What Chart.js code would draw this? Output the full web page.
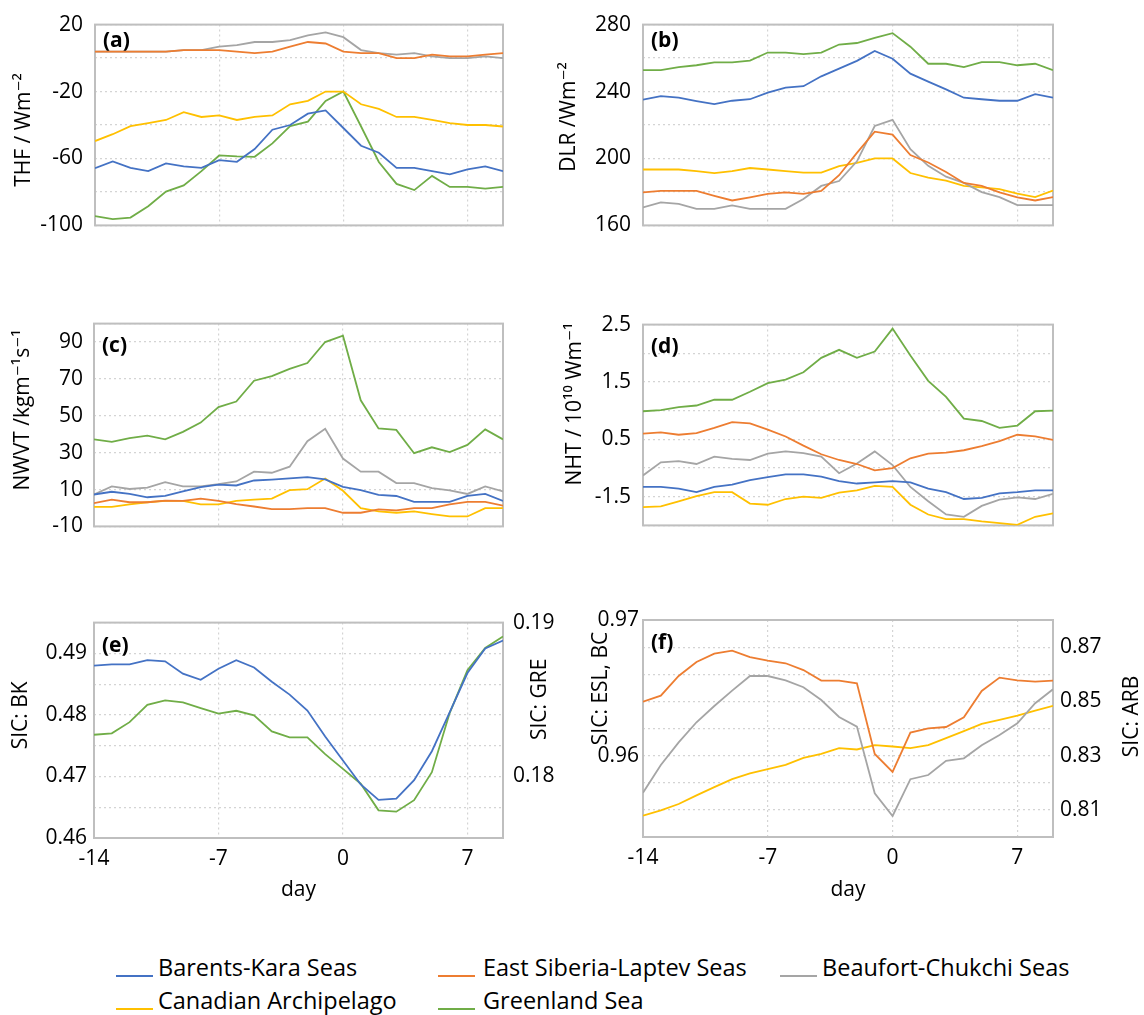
<!DOCTYPE html>
<html>
<head>
<meta charset="utf-8">
<script src="https://cdn.jsdelivr.net/npm/chart.js@4.4.0/dist/chart.umd.min.js"></script>
<style>
  body { margin: 0; background: #fff; }
  #page { position: relative; width: 1144px; height: 1015px; overflow: hidden; font-family: "Open Sans", "DejaVu Sans", sans-serif; }
  .panel { position: absolute; }
  .leg { position: absolute; font-size: 23.5px; line-height: 26px; color: #000; white-space: nowrap; }
  .swatch { position: absolute; width: 37px; height: 2px; }
</style>
</head>
<body>
<div id="page"></div>
<script>
// days relative to the event
const days = [-14, -13, -12, -11, -10, -9, -8, -7, -6, -5, -4, -3, -2, -1, 0, 1, 2, 3, 4, 5, 6, 7, 8, 9];
const dayTicks = [-14, -7, 0, 7];

const seriesNames = ["Barents-Kara Seas", "East Siberia-Laptev Seas", "Beaufort-Chukchi Seas", "Canadian Archipelago", "Greenland Sea"];
const seriesColors = ["#4472C4", "#ED7D31", "#A5A5A5", "#FFC000", "#70AD47"];

// (a) THF
const thfBK = [-65.8, -61.8, -65.6, -67.6, -62.9, -64.7, -65.6, -61, -62, -54.4, -42.8, -40, -33.2, -31.3, -41.8, -52.4, -56.6, -65.6, -65.6, -67.6, -69.5, -66.5, -64.7, -67.6];
const thfESL = [3.9, 3.9, 3.9, 3.9, 3.9, 4.8, 4.8, 4.8, 3.9, 3, 3.9, 6.8, 9.6, 8.7, 3.9, 3, 3, 0, 0, 2, 1, 1, 2, 3];
const thfBC = [3.9, 3.9, 3.9, 3.9, 3.9, 4.8, 4.8, 6.8, 7.7, 9.6, 9.6, 10.7, 13.5, 15.3, 12.5, 4.8, 3, 2, 3, 1, 0, 0, 1, 0];
const thfCA = [-49.6, -45.5, -40.7, -38.9, -37, -32.3, -35.2, -34.3, -37, -35.2, -34.3, -27.6, -25.6, -20, -20, -27.6, -30.4, -35.2, -35.2, -37, -38.9, -40, -40, -40.9];
const thfGRE = [-94.4, -96.2, -95.3, -88.5, -79.8, -76.1, -67.6, -58.2, -58.8, -59, -51, -40.7, -38, -25.6, -20, -40.9, -62.1, -75.2, -78.9, -70.4, -77, -77, -78, -77];
const thfTicks = [-100, -80, -60, -40, -20, 0, 20];
const thfLabels = ["-100", "", "-60", "", "-20", "", "20"];

// (b) DLR
const dlrBK = [235.2, 237.3, 236.3, 234.3, 232.5, 234.5, 235.4, 239.3, 242.3, 243.2, 249.1, 253.7, 258.3, 264.2, 259.6, 250.7, 245.9, 241.3, 236.3, 235.4, 234.5, 234.5, 238.4, 236.3];
const dlrESL = [179.7, 180.6, 180.6, 180.6, 177.7, 174.9, 176.8, 178.8, 179.7, 178.8, 180.6, 190, 203.3, 216, 214.2, 202, 197.6, 191.9, 185.4, 183.6, 179.7, 176.8, 174.9, 176.9];
const dlrBC = [170.8, 173.8, 172.9, 169.9, 169.9, 172, 169.9, 169.9, 169.9, 175.8, 183.6, 186.5, 198.3, 219.4, 223.1, 205.5, 195.6, 189.1, 185.4, 179.9, 176.9, 172.1, 172.1, 172.1];
const dlrCA = [193.4, 193.4, 193.4, 192.4, 191.3, 192.4, 194.3, 193.4, 192.4, 191.5, 191.5, 195.4, 197.4, 200, 200, 191.3, 188.6, 186.7, 183.6, 182.7, 181.7, 179, 176.9, 180.8];
const dlrGRE = [252.8, 252.8, 254.6, 255.7, 257.4, 257.4, 258.5, 263.3, 263.3, 262.4, 263.3, 268.1, 269, 272, 274.9, 266.8, 256.6, 256.6, 254.6, 257.6, 257.6, 255.7, 256.6, 252.8];
const dlrTicks = [160, 180, 200, 220, 240, 260, 280];
const dlrLabels = ["160", "", "200", "", "240", "", "280"];

// (c) NWVT
const nwvtBK = [7.3, 8.8, 7.6, 5.8, 6.5, 9, 11.3, 12.7, 12.2, 14.9, 15.4, 16, 16.7, 15.5, 11.5, 9.7, 7.1, 6.5, 3.3, 3.3, 3.3, 6.5, 7.6, 3.8];
const nwvtESL = [2.6, 4.5, 3.1, 3.1, 4, 3.8, 5.1, 3.8, 2.1, 0.8, -0.6, -0.6, -0.1, -0.1, -2.6, -2.6, -0.8, -1.3, -0.1, -0.1, 1.9, 3.3, 3.3, 1.3];
const nwvtBC = [7.3, 11.7, 10.3, 11, 14, 11.7, 11.7, 12.9, 14.4, 19.7, 19.1, 22.4, 36.2, 42.9, 26.8, 19.7, 19.7, 13.5, 13.5, 10.8, 9.5, 7.6, 11.7, 9];
const nwvtCA = [0.6, 0.6, 1.9, 3.1, 3.8, 3.8, 1.9, 1.9, 3.8, 4.5, 5.1, 9.7, 10.2, 16, 9.3, -0.1, -1.9, -2.6, -1.9, -3.3, -4.6, -4.6, -0.1, -0.1];
const nwvtGRE = [37.2, 35.9, 37.9, 39.2, 37.2, 41.3, 46.3, 54.7, 57.7, 69, 71.5, 75.4, 78.6, 90, 93.4, 58.4, 43.1, 42.3, 29.7, 32.9, 30.3, 34.2, 42.6, 37.2];
const nwvtTicks = [-10, 10, 30, 50, 70, 90, 100];
const nwvtLabels = ["-10", "10", "30", "50", "70", "90", ""];

// (d) NHT (tick labels as printed in the figure)
const nhtBK = [-0.33, -0.33, -0.36, -0.42, -0.33, -0.29, -0.21, -0.16, -0.11, -0.11, -0.15, -0.23, -0.27, -0.25, -0.23, -0.25, -0.36, -0.42, -0.54, -0.52, -0.44, -0.42, -0.39, -0.39];
const nhtESL = [0.6, 0.62, 0.58, 0.61, 0.7, 0.8, 0.78, 0.67, 0.55, 0.39, 0.24, 0.14, 0.07, -0.04, 0, 0.17, 0.25, 0.27, 0.31, 0.38, 0.47, 0.58, 0.55, 0.49];
const nhtBC = [-0.13, 0.1, 0.12, 0.07, 0.2, 0.16, 0.14, 0.25, 0.29, 0.26, 0.2, -0.09, 0.08, 0.29, 0.05, -0.33, -0.58, -0.81, -0.85, -0.66, -0.55, -0.51, -0.54, -0.45];
const nhtCA = [-0.68, -0.67, -0.58, -0.49, -0.42, -0.42, -0.62, -0.64, -0.54, -0.5, -0.52, -0.43, -0.39, -0.31, -0.33, -0.64, -0.81, -0.89, -0.89, -0.93, -0.96, -0.99, -0.85, -0.79];
const nhtGRE = [0.99, 1.01, 1.06, 1.09, 1.19, 1.19, 1.33, 1.48, 1.54, 1.67, 1.92, 2.06, 1.92, 2.03, 2.43, 1.96, 1.52, 1.24, 0.86, 0.82, 0.7, 0.74, 0.99, 1.0];
const nhtTicks = [-1, -0.5, 0, 0.5, 1, 1.5, 2, 2.5];
const nhtLabels = ["", "-1.5", "", "0.5", "", "1.5", "", "2.5"];

// (e) SIC BK (left) and GRE (right)
const sicBK = [0.488, 0.4882, 0.4882, 0.4889, 0.4887, 0.4867, 0.4857, 0.4875, 0.4889, 0.4877, 0.4854, 0.4833, 0.4807, 0.4765, 0.4726, 0.4687, 0.4662, 0.4664, 0.4694, 0.4741, 0.4804, 0.4868, 0.4908, 0.4921];
const sicGRE = [0.18271, 0.1828, 0.18353, 0.18466, 0.18494, 0.18481, 0.18444, 0.18408, 0.18427, 0.18397, 0.18293, 0.18254, 0.18254, 0.18145, 0.18049, 0.17953, 0.1778, 0.17771, 0.17846, 0.18028, 0.18412, 0.1869, 0.18835, 0.1891];
const bkTicks = [0.46, 0.465, 0.47, 0.475, 0.48, 0.485, 0.49, 0.495];
const bkLabels = ["0.46", "", "0.47", "", "0.48", "", "0.49", ""];
const greTicks = [0.176, 0.178, 0.18, 0.182, 0.184, 0.186, 0.188, 0.19];
const greLabels = ["", "", "0.18", "", "", "", "", "0.19"];

// (f) SIC ESL, BC (left) and ARB (right)
const sicESL = [0.96398, 0.96442, 0.96587, 0.9669, 0.96752, 0.96774, 0.96727, 0.967, 0.96681, 0.96631, 0.96553, 0.96553, 0.96533, 0.96012, 0.9588, 0.9617, 0.96201, 0.96211, 0.96283, 0.96477, 0.96575, 0.96555, 0.96545, 0.96553];
const sicBC = [0.95727, 0.95931, 0.96098, 0.96246, 0.96366, 0.96479, 0.96587, 0.96587, 0.96555, 0.96504, 0.9641, 0.96285, 0.96214, 0.95722, 0.95555, 0.95826, 0.95857, 0.95961, 0.9598, 0.96076, 0.96152, 0.96238, 0.96386, 0.96489];
const sicCA = [0.80785, 0.80982, 0.81215, 0.81534, 0.8184, 0.82135, 0.82344, 0.82503, 0.82663, 0.8292, 0.83067, 0.83276, 0.83227, 0.83387, 0.83337, 0.83276, 0.83387, 0.83644, 0.83902, 0.84172, 0.84319, 0.84479, 0.84663, 0.84834];
const eslTicks = [0.954, 0.956, 0.958, 0.96, 0.962, 0.964, 0.966, 0.968, 0.97];
const eslLabels = ["", "", "", "0.96", "", "", "", "", "0.97"];
const arbTicks = [0.8, 0.81, 0.82, 0.83, 0.84, 0.85, 0.86, 0.87, 0.88];
const arbLabels = ["", "0.81", "", "0.83", "", "0.85", "", "0.87", ""];

const FONT = '"Open Sans", "DejaVu Sans", sans-serif';
Chart.defaults.font.family = FONT;
Chart.defaults.font.size = 21;
Chart.defaults.color = "#000";

const GRID = "#d4d4d4";
const FRAME = "#bfbfbf";

// frame, panel letter and the rotated axis titles
const panelDeco = {
  id: "panelDeco",
  beforeDatasetsDraw(chart, args, opts) {
    const a = chart.chartArea;
    const ctx = chart.ctx;
    ctx.save();
    ctx.strokeStyle = FRAME;
    ctx.lineWidth = 2;
    ctx.strokeRect(a.left, a.top, a.right - a.left, a.bottom - a.top);
    ctx.restore();
  },
  afterDatasetsDraw(chart, args, opts) {
    const a = chart.chartArea;
    const ctx = chart.ctx;
    const midY = (a.top + a.bottom) / 2;
    ctx.save();
    ctx.fillStyle = "#000";
    ctx.font = "bold 21px " + FONT;
    ctx.textBaseline = "middle";
    ctx.fillText(opts.tag, a.left + 8, a.top + opts.tagY);
    ctx.font = "21px " + FONT;
    ctx.textAlign = "center";
    opts.titles.forEach(t => {
      ctx.save();
      ctx.translate((t.side === "right" ? a.right : a.left) + t.dx, midY + t.dy);
      ctx.rotate(-Math.PI / 2);
      ctx.fillText(t.text, 0, 0);
      ctx.restore();
    });
    ctx.restore();
  }
};

function pts(values) {
  return values.map((v, i) => ({ x: days[i], y: v }));
}

function makePanel(p) {
  const page = document.getElementById("page");
  const div = document.createElement("div");
  div.className = "panel";
  div.style.left = p.box.left + "px";
  div.style.top = p.box.top + "px";
  const canvas = document.createElement("canvas");
  canvas.width = p.box.w;
  canvas.height = p.box.h;
  div.appendChild(canvas);
  page.appendChild(div);

  const scales = {
    x: {
      type: "linear",
      min: -14,
      max: 9,
      afterBuildTicks: ax => { ax.ticks = dayTicks.map(v => ({ value: v })); },
      afterFit: ax => { ax.height = p.box.top + p.box.h - p.plot.B; },
      grid: { color: GRID, lineWidth: 1.2, drawTicks: false },
      border: { display: false, dash: [2, 3] },
      ticks: { display: !!p.bottom, padding: 8, autoSkip: false, maxRotation: 0, callback: v => String(v) },
      title: { display: !!p.bottom, text: "day", padding: { top: 0, bottom: 12 } }
    },
    y: {
      position: "left",
      min: p.y.ticks[0],
      max: p.y.ticks[p.y.ticks.length - 1],
      afterBuildTicks: ax => { ax.ticks = p.y.ticks.map(v => ({ value: v })); },
      afterFit: ax => { ax.width = p.plot.L - p.box.left; },
      grid: { color: GRID, lineWidth: 1.2, drawTicks: false },
      border: { display: false, dash: [2, 3] },
      ticks: { padding: p.y.pad, autoSkip: false, callback: (v, i) => p.y.labels[i] }
    }
  };
  if (p.y2) {
    scales.y2 = {
      position: "right",
      min: p.y2.ticks[0],
      max: p.y2.ticks[p.y2.ticks.length - 1],
      afterBuildTicks: ax => { ax.ticks = p.y2.ticks.map(v => ({ value: v })); },
      afterFit: ax => { ax.width = p.box.left + p.box.w - p.plot.R; },
      grid: { display: false, drawTicks: false },
      border: { display: false },
      ticks: { padding: p.y2.pad, autoSkip: false, callback: (v, i) => p.y2.labels[i] }
    };
  }

  new Chart(canvas, {
    type: "line",
    data: {
      datasets: p.series.map(s => ({
        label: seriesNames[s.k],
        data: pts(s.data),
        borderColor: seriesColors[s.k],
        backgroundColor: seriesColors[s.k],
        borderWidth: 1.8,
        pointRadius: 0,
        tension: 0,
        yAxisID: s.axis || "y"
      }))
    },
    options: {
      responsive: false,
      animation: false,
      events: [],
      layout: { padding: { top: p.plot.T - p.box.top, right: p.y2 ? 0 : p.box.left + p.box.w - p.plot.R, left: 0, bottom: 0 } },
      plugins: {
        legend: { display: false },
        tooltip: { enabled: false },
        panelDeco: { tag: p.tag, tagY: p.tagY, titles: p.titles }
      },
      scales: scales
    },
    plugins: [panelDeco]
  });
}

makePanel({
  box: { left: 0, top: 0, w: 520, h: 250 }, plot: { L: 95, T: 17, R: 503, B: 236 },
  tag: "(a)", tagY: 16,
  y: { ticks: thfTicks, labels: thfLabels, pad: 12 },
  titles: [{ text: "THF / Wm⁻²", side: "left", dx: -71, dy: 5 }],
  series: [{ k: 0, data: thfBK }, { k: 1, data: thfESL }, { k: 2, data: thfBC }, { k: 3, data: thfCA }, { k: 4, data: thfGRE }]
});

makePanel({
  box: { left: 540, top: 0, w: 540, h: 250 }, plot: { L: 643, T: 17, R: 1053, B: 236 },
  tag: "(b)", tagY: 16,
  y: { ticks: dlrTicks, labels: dlrLabels, pad: 12 },
  titles: [{ text: "DLR /Wm⁻²", side: "left", dx: -74, dy: -8 }],
  series: [{ k: 0, data: dlrBK }, { k: 1, data: dlrESL }, { k: 2, data: dlrBC }, { k: 3, data: dlrCA }, { k: 4, data: dlrGRE }]
});

makePanel({
  box: { left: 0, top: 300, w: 520, h: 250 }, plot: { L: 94, T: 318, R: 503, B: 536 },
  tag: "(c)", tagY: 22,
  y: { ticks: nwvtTicks, labels: nwvtLabels, pad: 11 },
  titles: [{ text: "NWVT /kgm⁻¹s⁻¹", side: "left", dx: -71, dy: -15 }],
  series: [{ k: 0, data: nwvtBK }, { k: 1, data: nwvtESL }, { k: 2, data: nwvtBC }, { k: 3, data: nwvtCA }, { k: 4, data: nwvtGRE }]
});

makePanel({
  box: { left: 540, top: 300, w: 540, h: 250 }, plot: { L: 643, T: 319, R: 1053, B: 537 },
  tag: "(d)", tagY: 22,
  y: { ticks: nhtTicks, labels: nhtLabels, pad: 12 },
  titles: [{ text: "NHT / 10¹⁰ Wm⁻¹", side: "left", dx: -68, dy: -21 }],
  series: [{ k: 0, data: nhtBK }, { k: 1, data: nhtESL }, { k: 2, data: nhtBC }, { k: 3, data: nhtCA }, { k: 4, data: nhtGRE }]
});

makePanel({
  box: { left: 0, top: 600, w: 580, h: 315 }, plot: { L: 94, T: 620, R: 503, B: 838 },
  tag: "(e)", tagY: 23, bottom: true,
  y: { ticks: bkTicks, labels: bkLabels, pad: 7 },
  y2: { ticks: greTicks, labels: greLabels, pad: 10 },
  titles: [{ text: "SIC: BK", side: "left", dx: -73, dy: -15 }, { text: "SIC: GRE", side: "right", dx: 37, dy: -31 }],
  series: [{ k: 0, data: sicBK }, { k: 4, data: sicGRE, axis: "y2" }]
});

makePanel({
  box: { left: 540, top: 600, w: 604, h: 315 }, plot: { L: 643, T: 620, R: 1053, B: 837 },
  tag: "(f)", tagY: 23, bottom: true,
  y: { ticks: eslTicks, labels: eslLabels, pad: 4 },
  y2: { ticks: arbTicks, labels: arbLabels, pad: 7 },
  titles: [{ text: "SIC: ESL, BC", side: "left", dx: -42, dy: -40 }, { text: "SIC: ARB", side: "right", dx: 79, dy: -12 }],
  series: [{ k: 1, data: sicESL }, { k: 2, data: sicBC }, { k: 3, data: sicCA, axis: "y2" }]
});

// shared legend: [line x, text x, text centre y]
const legendPos = [[116, 158, 967], [438, 483, 967], [780, 822, 967], [116, 158, 1000], [438, 483, 1000]];
const page = document.getElementById("page");
seriesNames.forEach((name, k) => {
  const [lx, tx, cy] = legendPos[k];
  const sw = document.createElement("div");
  sw.className = "swatch";
  sw.style.left = lx + "px";
  sw.style.top = (cy + 8) + "px";
  sw.style.background = seriesColors[k];
  page.appendChild(sw);
  const t = document.createElement("div");
  t.className = "leg";
  t.style.left = tx + "px";
  t.style.top = (cy - 13) + "px";
  t.textContent = name;
  page.appendChild(t);
});
</script>
</body>
</html>
